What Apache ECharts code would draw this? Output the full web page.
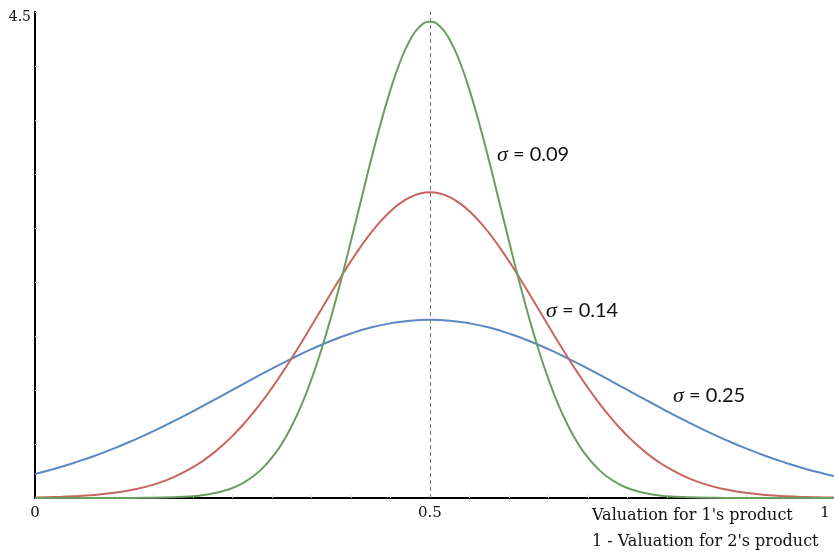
<!DOCTYPE html>
<html>
<head>
<meta charset="utf-8">
<script src="https://cdn.jsdelivr.net/npm/echarts@6/dist/echarts.min.js"></script>
<style>
  html, body { margin: 0; padding: 0; background: #fff; }
  #chart { width: 834px; height: 553px; }
</style>
</head>
<body>
<div id="chart"></div>
<script>
  // valuation on the x axis, density values
  var xValues = [0, 0.025, 0.05, 0.075, 0.1, 0.125, 0.15, 0.175, 0.2, 0.225, 0.25, 0.275, 0.3, 0.325, 0.35, 0.375, 0.4, 0.425, 0.45, 0.475,
    0.5, 0.525, 0.55, 0.575, 0.6, 0.625, 0.65, 0.675, 0.7, 0.725, 0.75, 0.775, 0.8, 0.825, 0.85, 0.875, 0.9, 0.925, 0.95, 0.975, 1, 1.0115]
  // finer steps in the middle for the two narrow curves
  var xFine = [0, 0.025, 0.05, 0.075, 0.1, 0.125, 0.15, 0.175,
    0.2, 0.2125, 0.225, 0.2375, 0.25, 0.2625, 0.275, 0.2875, 0.3, 0.3125, 0.325, 0.3375, 0.35, 0.3625, 0.375, 0.3875,
    0.4, 0.4125, 0.425, 0.4375, 0.45, 0.4625, 0.475, 0.4875, 0.5, 0.5125, 0.525, 0.5375, 0.55, 0.5625, 0.575, 0.5875,
    0.6, 0.6125, 0.625, 0.6375, 0.65, 0.6625, 0.675, 0.6875, 0.7, 0.7125, 0.725, 0.7375, 0.75, 0.7625, 0.775, 0.7875, 0.8,
    0.825, 0.85, 0.875, 0.9, 0.925, 0.95, 0.975, 1, 1.0115]
  var blueValues = [0.223, 0.271, 0.327, 0.389, 0.459, 0.536, 0.619, 0.709, 0.803, 0.901, 1.001, 1.100, 1.198, 1.291, 1.378, 1.456, 1.523, 1.578, 1.617, 1.642,
    1.650, 1.642, 1.617, 1.578, 1.523, 1.456, 1.378, 1.291, 1.198, 1.100, 1.001, 0.901, 0.803, 0.709, 0.619, 0.536, 0.459, 0.389, 0.327, 0.271, 0.223, 0.203]
  var redValues = [0.005, 0.009, 0.016, 0.028, 0.048, 0.078, 0.124, 0.191,
    0.285, 0.344, 0.411, 0.488, 0.575, 0.671, 0.778, 0.894, 1.020, 1.154, 1.296, 1.443, 1.594, 1.747, 1.900, 2.049,
    2.193, 2.328, 2.452, 2.562, 2.655, 2.730, 2.785, 2.819, 2.830, 2.819, 2.785, 2.730, 2.655, 2.562, 2.452, 2.328,
    2.193, 2.049, 1.900, 1.747, 1.594, 1.443, 1.296, 1.154, 1.020, 0.894, 0.778, 0.671, 0.575, 0.488, 0.411, 0.344, 0.285,
    0.191, 0.124, 0.078, 0.048, 0.028, 0.016, 0.009, 0.005, 0.004]
  var greenValues = [0, 0, 0, 0, 0, 0.001, 0.002, 0.007,
    0.017, 0.027, 0.041, 0.063, 0.093, 0.136, 0.194, 0.272, 0.373, 0.503, 0.666, 0.864, 1.100, 1.373, 1.681, 2.019,
    2.379, 2.749, 3.117, 3.465, 3.779, 4.044, 4.243, 4.368, 4.410, 4.368, 4.243, 4.044, 3.779, 3.465, 3.117, 2.749,
    2.379, 2.019, 1.681, 1.373, 1.100, 0.864, 0.666, 0.503, 0.373, 0.272, 0.194, 0.136, 0.093, 0.063, 0.041, 0.027, 0.017,
    0.007, 0.002, 0.001, 0, 0, 0, 0, 0, 0]
  var xLabels = [0, 0.5, 1]
  var xTicks = [0.05, 0.1, 0.15, 0.2, 0.25, 0.3, 0.35, 0.4, 0.45, 0.55, 0.6, 0.65, 0.7, 0.75, 0.8, 0.85, 0.9, 0.95]
  var sigmaLabels = ['0.09', '0.14', '0.25']

  function pairs(xs, ys) {
    return xs.map(function(x, i) { return [x, ys[i]] })
  }

  var serif = '"DejaVu Serif", "Liberation Serif", serif'

  function sigmaText(value, left, top) {
    return {
      type: 'text',
      left: left,
      top: top,
      style: {
        text: '{s|σ} = ' + value,
        font: '20px Lato, sans-serif',
        fill: '#111',
        rich: {
          s: {fontFamily: '"Liberation Serif", serif', fontStyle: 'italic', fontSize: 22, fill: '#111'}
        }
      }
    }
  }

  var chart = echarts.init(document.getElementById('chart'))
  var option = {
    animation: false,
    grid: {
      left: 35,
      right: 0,
      top: 12,
      bottom: 55
    },
    xAxis: {
      type: 'value',
      min: 0,
      max: 1.0115,
      axisLine: {lineStyle: {color: '#000', width: 2}},
      splitLine: {show: false},
      axisTick: {
        show: true,
        inside: true,
        length: 3,
        customValues: xTicks,
        lineStyle: {color: '#d8d8d8', width: 1}
      },
      axisLabel: {
        customValues: xLabels,
        color: '#111',
        fontFamily: serif,
        fontSize: 15,
        margin: 8,
        formatter: function(v) { return String(v) }
      }
    },
    yAxis: {
      type: 'value',
      min: 0,
      max: 4.5,
      interval: 0.5,
      axisLine: {show: true, lineStyle: {color: '#000', width: 2}},
      splitLine: {show: false},
      axisTick: {
        show: true,
        inside: true,
        length: 3,
        lineStyle: {color: '#d8d8d8', width: 1}
      },
      axisLabel: {
        color: '#111',
        fontFamily: serif,
        fontSize: 14,
        margin: 4,
        formatter: function(v) { return v === 4.5 ? '{a|4.5}' : '' },
        rich: {
          a: {fontFamily: serif, fontSize: 14, color: '#111', padding: [10, 0, 0, 0]}
        }
      }
    },
    series: [
      {
        name: 'blue',
        type: 'line',
        smooth: true,
        showSymbol: false,
        data: pairs(xValues, blueValues),
        lineStyle: {color: '#5b87c5', width: 2},
        itemStyle: {color: '#5b87c5'}
      },
      {
        name: 'red',
        type: 'line',
        smooth: true,
        showSymbol: false,
        data: pairs(xFine, redValues),
        lineStyle: {color: '#c9655f', width: 2},
        itemStyle: {color: '#c9655f'}
      },
      {
        name: 'green',
        type: 'line',
        smooth: true,
        showSymbol: false,
        data: pairs(xFine, greenValues),
        lineStyle: {color: '#6a9e60', width: 2},
        itemStyle: {color: '#6a9e60'},
        markLine: {
          silent: true,
          symbol: 'none',
          label: {show: false},
          lineStyle: {color: '#777', type: [4, 3], width: 1},
          data: [{xAxis: 0.5}]
        }
      }
    ],
    graphic: [
      sigmaText(sigmaLabels[0], 497, 144),
      sigmaText(sigmaLabels[1], 546, 300),
      sigmaText(sigmaLabels[2], 673, 385),
      {
        type: 'text',
        left: 592,
        top: 508,
        style: {text: "Valuation for 1's product", font: '16px ' + serif, fill: '#111'}
      },
      {
        type: 'text',
        left: 592,
        top: 534,
        style: {text: "1 - Valuation for 2's product", font: '16px ' + serif, fill: '#111'}
      }
    ]
  }
  chart.setOption(option)
</script>
</body>
</html>
